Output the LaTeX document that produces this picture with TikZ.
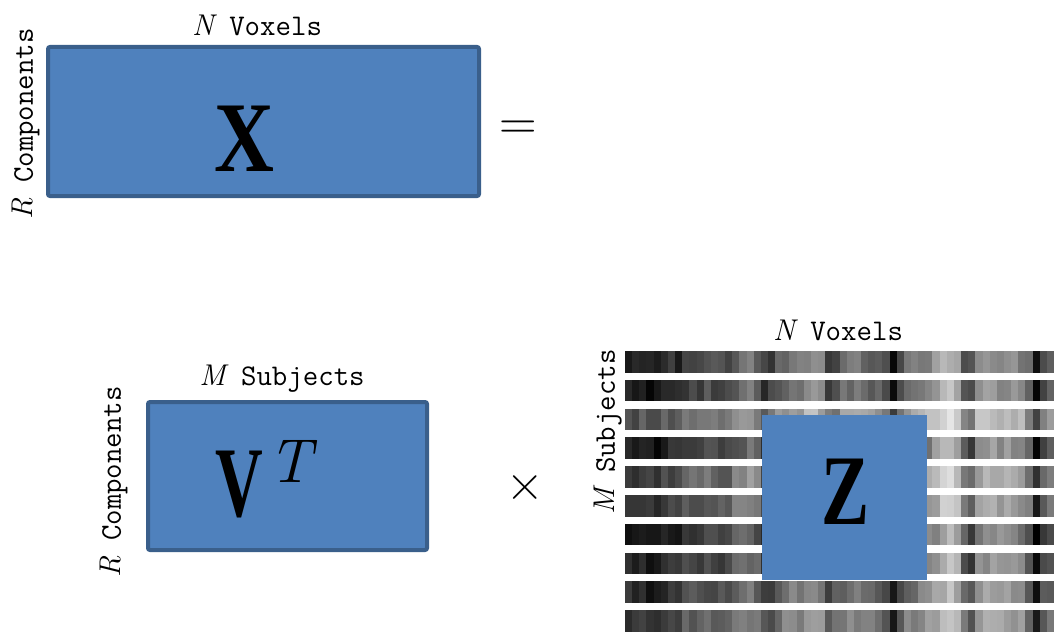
\documentclass[tikz,border=0pt]{standalone}
\usepackage{fontspec}
\usepackage{graphicx}
\newfontfamily\bigserif{Liberation Serif}
\definecolor{boxfill}{HTML}{4F81BD}
\definecolor{boxline}{HTML}{3A5F8B}
\newcommand{\ivar}[1]{{\rmfamily\itshape #1}}
\begin{document}
\begin{tikzpicture}[x=1pt,y=-1pt,
  lbl/.style={inner sep=0pt, font=\fontsize{30}{36}\selectfont\ttfamily},
  big/.style={inner sep=0pt, font=\fontsize{100}{104}\selectfont\bigserif\bfseries},
  mat/.style={fill=boxfill, draw=boxline, line width=4pt, rounded corners=2pt, inner sep=0pt},
  op/.style={inner sep=0pt, font=\fontsize{52}{56}\selectfont}]
\useasboundingbox (0,0) rectangle (1054,634);

% ---------- top: X ----------
\node[mat, minimum width=431pt, minimum height=149pt] (xbox) at (263.5,121.5) {};
\node[big] (xlet) at (244,139) {\scalebox{0.83}[1]{X}};
\node[lbl] (xtop) at (257,25) {\ivar{N}~Voxels};
\node[lbl, rotate=90] (xleft) at (26,124) {\ivar{R}~Components};
\node[op] (eq) at (518,130) {=};

% ---------- bottom left: V^T ----------
\node[mat, minimum width=279pt, minimum height=148pt] (vbox) at (287.5,476) {};
\node[big] (vlet) at (239,485) {\scalebox{0.66}[1]{V}};
\node[inner sep=0pt, font=\fontsize{62}{64}\selectfont\rmfamily\itshape] (tlet) at (290,461) {T};
\node[lbl] (vtop) at (282,379) {\ivar{M}~Subjects};
\node[lbl, rotate=90] (vleft) at (114,482) {\ivar{R}~Components};
\node[op] (times) at (525,488) {×};

% ---------- bottom right: striped data ----------
\pgfmathsetseed{12}
\foreach \off [count=\ri from 0] in {-4,-4,14,-6,8,4,-7,-4,-2,4}{
  \pgfmathsetmacro\ytop{351+28.8*\ri}
  \foreach \g [count=\ci from 0] in {18,16,20,12,14,20,22,20,30,32,30,34,32,30,28,42,45,48,40,25,28,40,45,50,48,55,58,52,30,35,45,48,50,46,42,40,30,8,35,45,48,52,55,62,72,75,68,40,30,58,62,64,60,62,58,55,40,10,35,40}{
    \pgfmathtruncatemacro\k{100-max(0,min(100,\g+\off+7*rand))}
    \fill[black!\k] ({625+7.15*\ci},\ytop) rectangle ({625+7.15*(\ci+1)+0.4},{\ytop+21.5});
  }
}
\node[fill=boxfill, minimum width=165pt, minimum height=165pt, inner sep=0pt] (zbox) at (844.5,497.5) {};
\node[big] (zlet) at (845,491.5) {\scalebox{0.72}[1]{Z}};
\node[lbl] (ztop) at (838,330) {\ivar{N}~Voxels};
\node[lbl, rotate=90] (zleft) at (608,432) {\ivar{M}~Subjects};
\end{tikzpicture}
\end{document}
